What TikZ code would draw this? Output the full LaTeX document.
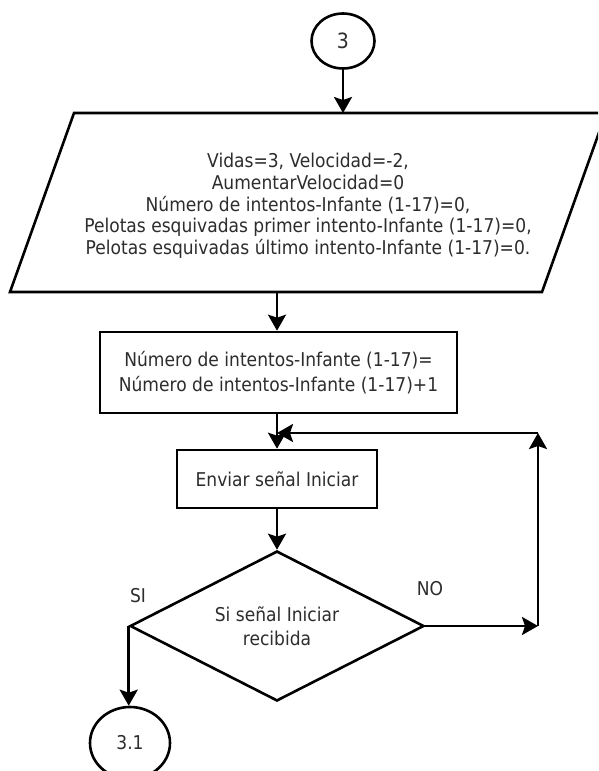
\documentclass[tikz,border=0pt]{standalone}
\usepackage{fontspec}
\setmainfont{DejaVu Sans}[FakeStretch=0.9]
\usetikzlibrary{shapes.geometric,arrows.meta}
\definecolor{inkgray}{RGB}{45,45,45}
\begin{document}
\begin{tikzpicture}[x=1pt,y=-1pt,
  line width=2.6pt,
  every node/.style={text=inkgray,font=\fontsize{19}{21.7}\selectfont},
  flow/.style={-{Stealth[length=16pt,width=18pt,inset=3pt]}},
  procbox/.style={draw=black,rectangle,inner sep=0pt,align=center},
  connector/.style={draw=black,ellipse,inner sep=0pt},
  decision/.style={draw=black,diamond,inner sep=0pt,aspect=1.96,align=center}]
\clip (0,0) rectangle (598,771);
\fill[white] (0,0) rectangle (598,771);

% entry connector
\node[connector,minimum width=63pt,minimum height=55pt,font=\fontsize{21}{24}\selectfont] (c3) at (343,41) {3};

% initialisation (input/output parallelogram)
\coordinate (pTL) at (74,113);
\coordinate (pTR) at (606,113);
\coordinate (pBR) at (542,292);
\coordinate (pBL) at (10,292);
\draw (pTL) -- (pTR) -- (pBR) -- (pBL) -- cycle;
\coordinate (pTop) at (343,113);
\coordinate (pBot) at (277,292);
\node[align=center] (init) at (308,206) {Vidas=3, Velocidad=-2,\\AumentarVelocidad=0\\Número de intentos-Infante (1-17)=0,\\Pelotas esquivadas primer intento-Infante (1-17)=0,\\Pelotas esquivadas último intento-Infante (1-17)=0.};

% counter update
\node[procbox,minimum width=357pt,minimum height=81pt,font=\fontsize{19}{25}\selectfont] (inc) at (278.5,372.5) {Número de intentos-Infante (1-17)=\\Número de intentos-Infante (1-17)+1};

% send signal
\node[procbox,minimum width=200pt,minimum height=58pt] (send) at (277,479) {Enviar señal Iniciar};

% decision
\node[decision,minimum width=294pt,minimum height=150pt,font=\fontsize{19}{24}\selectfont] (dec) at (277,626) {Si señal Iniciar\\recibida};

% exit connector
\node[connector,minimum width=80pt,minimum height=72pt] (c31) at (130,743) {3.1};

% branch labels
\node (si) at (138,596) {SI};
\node (no) at (430,589) {NO};

% loop corner points
\coordinate (loopR) at (538,626);
\coordinate (loopT) at (538,433);
\coordinate (join) at (277,433);

% main flow
\draw[flow] (c3.south) -- (pTop);
\draw[flow] (pBot) -- (inc.north -| pBot);
\draw[flow] (inc.south -| send.north) -- (send.north);
\draw[flow] (send.south) -- (dec.north);
\draw[flow] (dec.west) -- (dec.west |- c31.north);

% retry loop
\draw[flow] (dec.east) -- (loopR);
\draw[flow] (loopR) -- (loopT);
\draw[flow] (loopT) -- (join);
\end{tikzpicture}
\end{document}
